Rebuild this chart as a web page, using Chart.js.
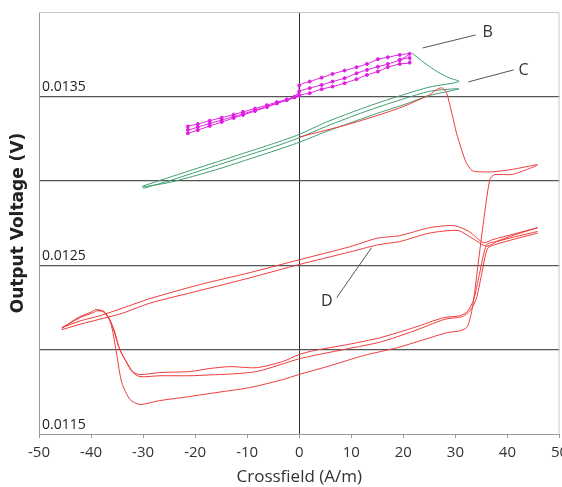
<!DOCTYPE html>
<html>
<head>
<meta charset="utf-8">
<script src="https://cdn.jsdelivr.net/npm/chart.js@4"></script>
<style>
  body { margin: 0; background: #fff; }
  canvas { display: block; }
</style>
</head>
<body>
<canvas id="chart" width="562" height="487"></canvas>
<script>
// axis setup
const xTicks = [-50, -40, -30, -20, -10, 0, 10, 20, 30, 40, 50];
const yLabels = [0.0115, 0.0125, 0.0135];

// D: first pass (virgin curve, drop, thin loop on right, lowest branch)
const redFirstX = [0.1, 9.7, 19.3, 25.0, 26.6, 27.5, 28.3, 29.3, 30.2, 31.2, 32.1, 33.3, 35.2, 37.1, 41.0, 45.8,
  41.0, 37.5, 36.6, 35.2, 34.3, 33.3, 32.3, 31.0, 28.5, 25.2, 18.9, 12.4, 6.0, -0.1, -3.2, -9.5, -15.8, -22.4,
  -26.8, -30.6, -32.5, -34.1, -35.0, -35.8, -36.4, -37.5, -38.7];
const redFirstY = [0.013260, 0.013337, 0.013432, 0.013509, 0.013544, 0.013550, 0.013521, 0.013402, 0.013284,
  0.013183, 0.013107, 0.013059, 0.013053, 0.013053, 0.013068, 0.013095,
  0.013038, 0.013036, 0.013006, 0.012710, 0.012491, 0.012254, 0.012136, 0.012112, 0.012101, 0.012071, 0.012012,
  0.011965, 0.011905, 0.011852, 0.011822, 0.011775, 0.011746, 0.011716, 0.011698, 0.011675, 0.011704, 0.011805,
  0.011959, 0.012101, 0.012178, 0.012225, 0.012231];

// D: main loop, pass 1
const redUp1X = [-45.6, -42.1, -38.3, -34.0, -28.7, -19.1, -9.5, 0.1, 9.7, 15.0, 19.3, 25.0, 29.8, 32.7, 35.4, 37.1, 41.4, 45.8];
const redUp1Y = [0.012130, 0.012170, 0.012201, 0.012245, 0.012302, 0.012385, 0.012456, 0.012533, 0.012609, 0.012660,
  0.012675, 0.012722, 0.012734, 0.012698, 0.012633, 0.012651, 0.012686, 0.012722];
const redDown1X = [45.8, 41.4, 37.8, 36.0, 34.6, 33.5, 32.3, 30.8, 27.7, 22.0, 15.6, 9.3, 2.8, -0.1, -3.2, -8.2,
  -13.3, -17.2, -21.0, -26.8, -30.6, -32.0, -33.1, -34.5, -35.4, -36.4, -37.5, -38.7, -39.6, -42.1, -45.6];
const redDown1Y = [0.012722, 0.012680, 0.012640, 0.012621, 0.012444, 0.012296, 0.012225, 0.012201, 0.012189,
  0.012130, 0.012071, 0.012030, 0.011994, 0.011970, 0.011929, 0.011893, 0.011899, 0.011888, 0.011870, 0.011864,
  0.011852, 0.011870, 0.011923, 0.012000, 0.012101, 0.012178, 0.012225, 0.012231, 0.012219, 0.012189, 0.012130];

// D: main loop, pass 2
const redUp2X = [-45.6, -42.1, -38.3, -34.0, -28.7, -19.1, -9.5, 0.1, 9.7, 15.0, 19.3, 25.0, 30.5, 33.2, 36.0, 38.0, 41.4, 45.8];
const redUp2Y = [0.012118, 0.012150, 0.012180, 0.012215, 0.012275, 0.012350, 0.012425, 0.012505, 0.012578, 0.012620,
  0.012640, 0.012690, 0.012705, 0.012660, 0.012612, 0.012640, 0.012668, 0.012700];
const redDown2X = [45.8, 41.4, 38.0, 36.2, 35.0, 34.0, 32.8, 31.3, 28.0, 22.0, 15.6, 9.3, 2.8, -0.1, -3.2, -8.2,
  -13.3, -17.2, -21.0, -26.8, -30.6, -32.0, -33.3, -34.6, -35.6, -36.6, -37.8, -39.0, -40.0, -42.5, -45.6];
const redDown2Y = [0.012690, 0.012655, 0.012625, 0.012600, 0.012440, 0.012300, 0.012230, 0.012195, 0.012180,
  0.012110, 0.012045, 0.012005, 0.011965, 0.011945, 0.011915, 0.011870, 0.011855, 0.011850, 0.011845, 0.011845,
  0.011840, 0.011865, 0.011930, 0.012010, 0.012110, 0.012185, 0.012228, 0.012238, 0.012222, 0.012190, 0.012125];

// C
const greenX = [21.7, 24.0, 26.5, 28.8, 30.7, 25.0, 20.0, 15.0, 10.0, 5.0, 0.0, -5.0, -10.0, -15.0, -20.0, -25.0, -30.2,
  -25.0, -20.0, -15.0, -10.0, -5.0, 0.0, 5.0, 10.0, 15.0, 20.0, 25.0, 30.7,
  25.0, 20.0, 15.0, 10.0, 5.0, 0.0, -5.0, -10.0, -15.0, -20.0, -25.0, -30.0];
const greenY = [0.013756, 0.013700, 0.013647, 0.013610, 0.013588, 0.013555, 0.013510, 0.013460, 0.013405, 0.013345,
  0.013275, 0.013220, 0.013170, 0.013120, 0.013070, 0.013020, 0.012965,
  0.012990, 0.013030, 0.013075, 0.013125, 0.013175, 0.013228, 0.013290, 0.013345, 0.013400, 0.013450, 0.013505, 0.013545,
  0.013530, 0.013485, 0.013435, 0.013380, 0.013320, 0.013255, 0.013200, 0.013150, 0.013100, 0.013050, 0.013000, 0.012955];

// B
const magX = [-21.4, -19.5, -17.2, -14.9, -12.6, -10.8, -8.5, -6.2, -4.3, -2.4, -0.9, 0.0,
  0.0, 2.0, 4.3, 6.4, 8.7, 11.0, 13.0, 15.1, 17.0, 19.3, 21.2,
  19.3, 17.0, 15.1, 13.0, 11.0, 8.7, 6.4, 4.3, 2.0, 0.0,
  -0.9, -2.4, -4.3, -6.2, -8.5, -10.8, -12.6, -14.9, -17.2, -19.5, -21.4,
  -21.4, -19.5, -17.2, -14.9, -12.6, -10.8, -8.5, -6.2, -4.3, -2.4, -0.9, 0.0,
  2.0, 4.3, 6.4, 8.7, 11.0, 13.0, 15.1, 17.0, 19.3, 21.2, 21.2, 19.3];
const magY = [0.013282, 0.013300, 0.013325, 0.013348, 0.013372, 0.013390, 0.013413, 0.013437, 0.013458, 0.013478, 0.013496, 0.013506,
  0.013565, 0.013588, 0.013611, 0.013633, 0.013653, 0.013673, 0.013692, 0.013720, 0.013732, 0.013746, 0.013752,
  0.013716, 0.013692, 0.013676, 0.013657, 0.013637, 0.013608, 0.013588, 0.013568, 0.013549, 0.013530,
  0.013495, 0.013478, 0.013460, 0.013440, 0.013418, 0.013396, 0.013380, 0.013360, 0.013340, 0.013318, 0.013302,
  0.013322, 0.013336, 0.013356, 0.013374, 0.013392, 0.013408, 0.013428, 0.013448, 0.013466, 0.013482, 0.013498, 0.013508,
  0.013519, 0.013543, 0.013558, 0.013578, 0.013602, 0.013627, 0.013647, 0.013673, 0.013692, 0.013700, 0.013728, 0.013716];

// label text, label position and leader line ends (data units)
const noteText = ["B", "C", "D"];
const noteX = [36.2, 43.1, 5.3];
const noteY = [0.013876, 0.013651, 0.012284];
const leadFromX = [23.7, 32.5, 7.2];
const leadFromY = [0.013787, 0.013586, 0.012308];
const leadToX = [33.9, 41.2, 13.9];
const leadToY = [0.013864, 0.013657, 0.012604];

const zip = (xs, ys) => xs.map((x, i) => ({ x: x, y: ys[i] }));
const RED = "#ee3b3b";
const GREEN = "#3d9e70";
const MAG = "#e01ee0";

function trace(xs, ys, color, pts) {
  return {
    data: zip(xs, ys),
    showLine: true,
    borderColor: color,
    backgroundColor: color,
    borderWidth: 1,
    tension: 0.25,
    pointRadius: pts ? 1.5 : 0,
    pointHoverRadius: 0,
  };
}

const near = (a, b) => Math.abs(a - b) < 1e-7;

const frame = {
  id: "frame",
  beforeDatasetsDraw(chart) {
    const { ctx, chartArea: a, scales } = chart;
    ctx.save();
    ctx.strokeStyle = "#c8c8c8";
    ctx.lineWidth = 1;
    ctx.beginPath();
    ctx.moveTo(a.left, a.top + 0.5);
    ctx.lineTo(a.right - 0.5, a.top + 0.5);
    ctx.lineTo(a.right - 0.5, a.bottom);
    ctx.stroke();
    ctx.fillStyle = "#222";
    ctx.font = "14px 'Open Sans'";
    ctx.textBaseline = "middle";
    ctx.textAlign = "left";
    yLabels.forEach((v) => {
      ctx.fillText(v.toFixed(4), a.left + 3, scales.y.getPixelForValue(v) - 9);
    });
    ctx.restore();
  },
  afterDatasetsDraw(chart) {
    const { ctx, scales } = chart;
    const sx = scales.x, sy = scales.y;
    ctx.save();
    ctx.strokeStyle = "#555";
    ctx.lineWidth = 1;
    noteText.forEach((t, i) => {
      ctx.beginPath();
      ctx.moveTo(sx.getPixelForValue(leadFromX[i]), sy.getPixelForValue(leadFromY[i]));
      ctx.lineTo(sx.getPixelForValue(leadToX[i]), sy.getPixelForValue(leadToY[i]));
      ctx.stroke();
    });
    ctx.fillStyle = "#333";
    ctx.font = "16px 'Open Sans'";
    ctx.textAlign = "center";
    ctx.textBaseline = "middle";
    noteText.forEach((t, i) => {
      ctx.fillText(t, sx.getPixelForValue(noteX[i]), sy.getPixelForValue(noteY[i]));
    });
    ctx.restore();
  },
};

new Chart("chart", {
  type: "scatter",
  data: {
    datasets: [
      trace(redFirstX, redFirstY, RED),
      trace(redUp1X, redUp1Y, RED),
      trace(redDown1X, redDown1Y, RED),
      trace(redUp2X, redUp2Y, RED),
      trace(redDown2X, redDown2Y, RED),
      trace(greenX, greenY, GREEN),
      trace(magX, magY, MAG, true),
    ],
  },
  options: {
    responsive: false,
    animation: false,
    layout: { padding: { top: 12, right: 2, left: 0, bottom: 0 } },
    plugins: { legend: { display: false }, tooltip: { enabled: false } },
    scales: {
      x: {
        type: "linear",
        min: -50,
        max: 50,
        afterBuildTicks: (s) => { s.ticks = xTicks.map((v) => ({ value: v })); },
        afterFit: (s) => { s.height = 53; s.paddingLeft = 0; s.paddingRight = 0; },
        ticks: { color: "#333", padding: 6, font: { family: "'Open Sans'", size: 15 } },
        grid: {
          color: (c) => (c.tick && c.tick.value === 0 ? "#333" : "rgba(0,0,0,0)"),
          tickColor: "#999",
          tickLength: 4,
        },
        border: { color: "#999" },
        title: {
          display: true,
          text: "Crossfield (A/m)",
          color: "#333",
          padding: { top: 0, bottom: 0 },
          font: { family: "'Open Sans'", size: 17 },
        },
      },
      y: {
        min: 0.0115,
        max: 0.014,
        afterBuildTicks: (s) => {
          s.ticks = [0.0115, 0.012, 0.0125, 0.013, 0.0135, 0.014].map((v) => ({ value: v }));
        },
        afterFit: (s) => { s.width = 39; s.paddingTop = 0; s.paddingBottom = 0; },
        ticks: { display: false },
        grid: {
          color: (c) => {
            const v = c.tick ? c.tick.value : 0;
            return near(v, 0.0115) || near(v, 0.014) ? "rgba(0,0,0,0)" : "#555";
          },
          drawTicks: false,
          lineWidth: 1.3,
        },
        border: { color: "#999" },
        title: {
          display: true,
          text: "Output Voltage (V)",
          color: "#222",
          padding: { top: 8, bottom: 0 },
          font: { family: "'DejaVu Sans'", size: 17, weight: "bold" },
        },
      },
    },
  },
  plugins: [frame],
});
</script>
</body>
</html>
